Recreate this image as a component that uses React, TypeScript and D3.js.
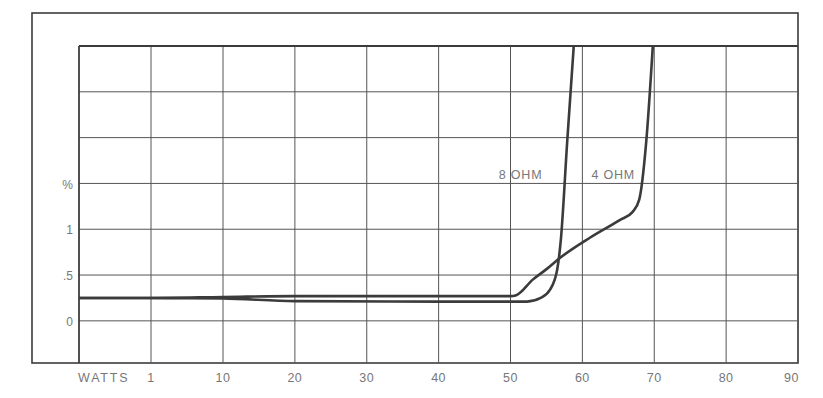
import React from 'react';
import * as d3 from 'd3';

const width = 823;
const height = 398;
const frame = { left: 32, top: 13, right: 798, bottom: 363 };
const plot = { left: 79, top: 46, right: 798, bottom: 363 };

// x axis: watts (first interval 0-1 is squeezed like the original paper)
const xTicks = [0, 1, 10, 20, 30, 40, 50, 60, 70, 80, 90];
const xLabels = ['WATTS', '1', '10', '20', '30', '40', '50', '60', '70', '80', '90'];
// y axis: distortion %
const yGrid = [0, 0.5, 1, 1.5, 2, 2.5, 3];
const yTicks = [0, 0.5, 1, 1.5];
const yLabels = ['0', '.5', '1', '%'];

// 8 ohm curve: [watts, %]
const ohm8Watts = [0, 1, 10, 20, 40, 50, 52.3, 54.2, 55.5, 56.5, 57.0, 57.9, 58.8];
const ohm8Thd = [0.25, 0.25, 0.245, 0.215, 0.21, 0.21, 0.21, 0.25, 0.34, 0.56, 0.88, 1.97, 3.0];
// 4 ohm curve
const ohm4Watts = [0, 1, 10, 20, 40, 50, 50.8, 53.1, 55.1, 56.6, 61.1, 65.2, 67.0, 67.9, 68.9, 69.8];
const ohm4Thd = [0.25, 0.25, 0.26, 0.27, 0.27, 0.27, 0.28, 0.45, 0.57, 0.67, 0.91, 1.1, 1.19, 1.32, 1.97, 3.0];

const labels = [
  { text: '8 OHM', watts: 51.4, thd: 1.6 },
  { text: '4 OHM', watts: 64.3, thd: 1.6 }
];

const ink = '#3b3b3b';
const textColor = '#777';
const font = '"Liberation Sans", Arial, sans-serif';

export default function App() {
  const x = d3
    .scaleLinear()
    .domain([0, 1, 10, 90])
    .range([plot.left, 151, 223, plot.right]);
  const y = d3
    .scaleLinear()
    .domain([-0.46, 3])
    .range([plot.bottom, plot.top]);

  const makePath = (ws: number[], vs: number[]) =>
    d3
      .line<[number, number]>()
      .x(d => x(d[0]))
      .y(d => y(d[1]))
      .curve(d3.curveMonotoneX)(ws.map((w, i) => [w, vs[i]] as [number, number])) || '';

  return (
    <svg
      width={width}
      height={height}
      style={{ position: 'absolute', left: 0, top: 0, background: '#fff' }}
    >
      {/* outer frame */}
      <rect
        x={frame.left}
        y={frame.top}
        width={frame.right - frame.left}
        height={frame.bottom - frame.top}
        fill="none"
        stroke={ink}
        strokeWidth={1.6}
      />
      {/* grid */}
      {xTicks.map(t => (
        <line key={'vx' + t} x1={x(t)} x2={x(t)} y1={plot.top} y2={plot.bottom} stroke="#555" strokeWidth={1} />
      ))}
      {yGrid.map(t => (
        <line
          key={'hy' + t}
          x1={plot.left}
          x2={plot.right}
          y1={y(t)}
          y2={y(t)}
          stroke={t === 3 ? ink : '#555'}
          strokeWidth={t === 3 ? 1.8 : 1}
        />
      ))}
      <line x1={plot.left} x2={plot.left} y1={plot.top} y2={plot.bottom} stroke={ink} strokeWidth={1.6} />

      {/* curves */}
      <path d={makePath(ohm4Watts, ohm4Thd)} fill="none" stroke={ink} strokeWidth={2.6} strokeLinejoin="round" />
      <path d={makePath(ohm8Watts, ohm8Thd)} fill="none" stroke={ink} strokeWidth={2.6} strokeLinejoin="round" />

      {/* curve labels */}
      {labels.map(l => (
        <text
          key={l.text}
          x={x(l.watts)}
          y={y(l.thd)}
          dy="0.35em"
          textAnchor="middle"
          fontFamily={font}
          fontSize={12.5}
          letterSpacing={0.8}
          fill={textColor}
        >
          {l.text}
        </text>
      ))}

      {/* y labels */}
      {yTicks.map((t, i) => (
        <text
          key={'yl' + t}
          x={73}
          y={y(t) + 1}
          dy="0.35em"
          textAnchor="end"
          fontFamily={font}
          fontSize={12}
          fill={textColor}
        >
          {yLabels[i]}
        </text>
      ))}

      {/* x labels */}
      {xTicks.map((t, i) => (
        <text
          key={'xl' + t}
          x={i === 0 ? x(t) - 1 : i === xTicks.length - 1 ? x(t) + 1 : x(t)}
          y={382}
          textAnchor={i === 0 ? 'start' : i === xTicks.length - 1 ? 'end' : 'middle'}
          fontFamily={font}
          fontSize={12.5}
          letterSpacing={i === 0 ? 1.8 : 0.5}
          fill={textColor}
        >
          {xLabels[i]}
        </text>
      ))}
    </svg>
  );
}
